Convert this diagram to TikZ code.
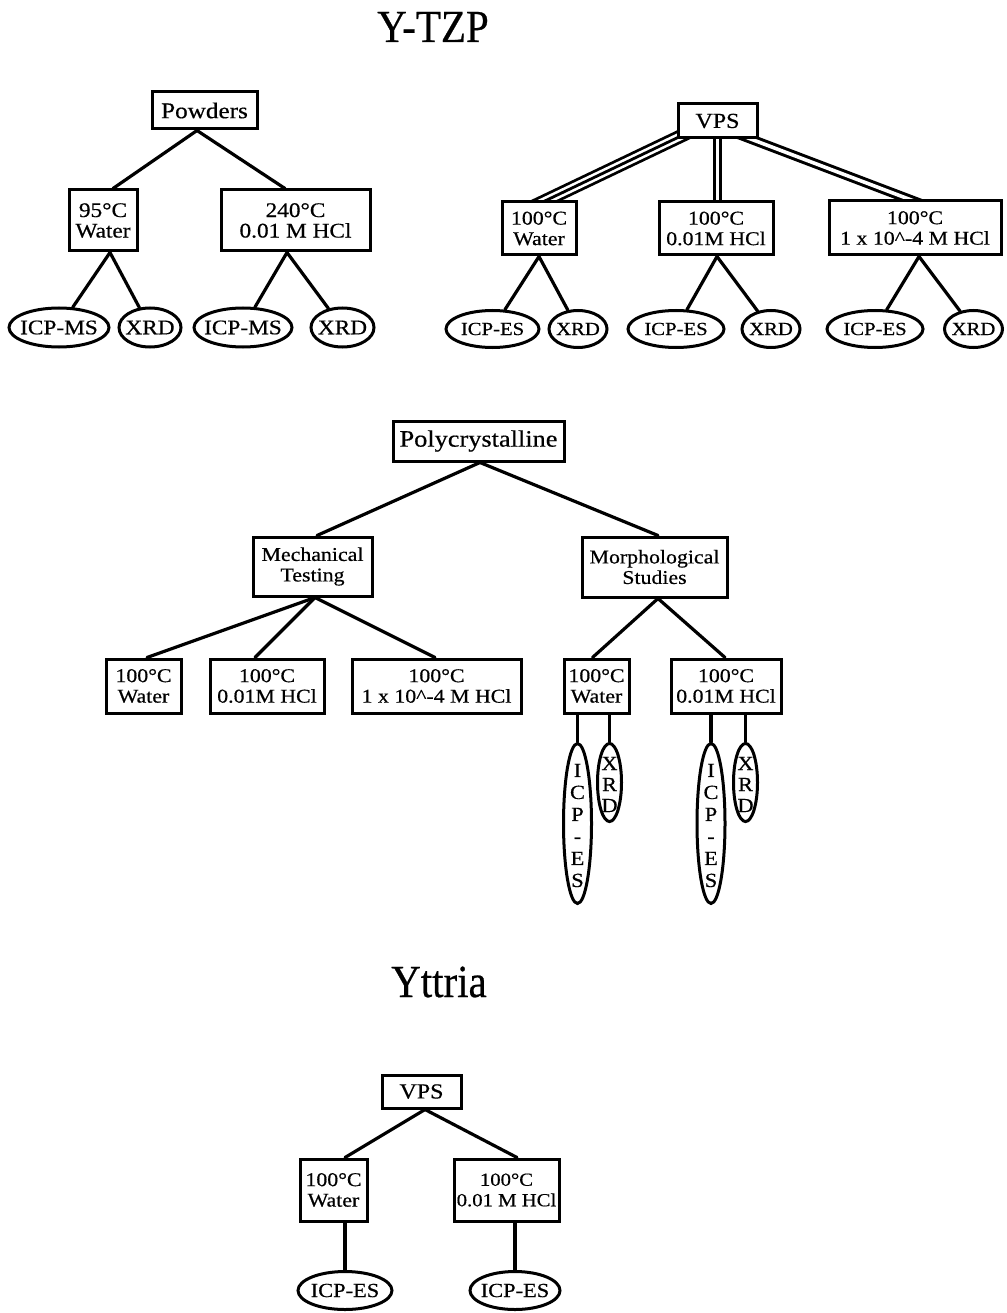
\documentclass[tikz,border=0pt]{standalone}
\usepackage{fontspec}
\setmainfont{Liberation Serif}
\newfontfamily\labfont[FakeStretch=1.12,FakeBold=0.5]{Liberation Serif}
\newfontfamily\titfont[FakeStretch=0.89,FakeBold=0.5]{Liberation Serif}
\usetikzlibrary{shapes.geometric,calc}
\pgfdeclarelayer{bg}
\pgfsetlayers{bg,main}
\begin{document}
\begin{tikzpicture}[x=1pt,y=-1pt,
  box/.style={draw, line width=3pt, fill=white, rectangle, inner sep=0pt, align=center},
  oval/.style={draw, ellipse, line width=3pt, fill=white, inner sep=0pt},
  sz/.style 2 args={minimum width=#1pt, minimum height=#2pt},
  ttl/.style={font=\titfont\fontsize{46}{48}\selectfont, inner sep=0pt, anchor=base},
  big/.style={font=\labfont\fontsize{22.5}{24}\selectfont},
  mid/.style={font=\labfont\fontsize{21.4}{23}\selectfont},
  sml/.style={font=\labfont\fontsize{19.5}{20.5}\selectfont},
  smlA/.style={font=\labfont\fontsize{20.8}{20.5}\selectfont},
  smlB/.style={font=\labfont\fontsize{18.5}{20.5}\selectfont},
  elA/.style={font=\labfont\fontsize{20.8}{22}\selectfont},
  elB/.style={font=\labfont\fontsize{18.5}{20}\selectfont},
  elC/.style={font=\labfont\fontsize{20}{22}\selectfont},
  vtxt/.style={font=\labfont\fontsize{20}{22}\selectfont, align=center, inner sep=0pt},
  conn/.style={line width=3.2pt, line cap=round},
  dbl/.style={line width=3pt, double, double distance=3.6pt},
  tri/.style={line width=2.8pt, double, double distance=8pt},
  trimid/.style={line width=2.8pt}
]
\useasboundingbox (0,0) rectangle (1006,1313);

% ---------- titles
\node[ttl] (ttl1) at (433,42) {Y-TZP};
\node[ttl] (ttl2) at (439,997) {Yttria};

% ---------- tree 1: Powders
\node[box,big,sz={105}{37}] (pow) at (204.5,110.5) {Powders};
\node[box,smlA,sz={68}{61}] (t1a) at (103,220.5) {95°C\\Water};
\node[box,smlA,sz={149}{61}] (t1b) at (295.5,220.5) {240°C\\0.01 M HCl};
\node[oval,elA,sz={100}{39}] (e1) at (59,327.5) {\makebox[0pt]{ICP-MS}};
\node[oval,elA,sz={62}{39}] (e2) at (150,327.5) {\makebox[0pt]{XRD}};
\node[oval,elA,sz={98}{39}] (e3) at (243,327.5) {\makebox[0pt]{ICP-MS}};
\node[oval,elA,sz={63}{39}] (e4) at (342.5,327.5) {\makebox[0pt]{XRD}};

% ---------- tree 2: VPS
\node[box,mid,sz={79}{34}] (vps) at (717.5,121) {VPS};
\node[box,sml,sz={74}{53}] (t2a) at (539,228.5) {100°C\\Water};
\node[box,sml,sz={114}{53}] (t2b) at (716,228.5) {100°C\\0.01M HCl};
\node[box,sml,sz={172}{54}] (t2c) at (915,228) {100°C\\1 x 10\textasciicircum-4 M HCl};
\node[oval,elB,sz={93}{37}] (e5) at (492.5,329) {\makebox[0pt]{ICP-ES}};
\node[oval,elB,sz={58}{37}] (e6) at (578,329) {\makebox[0pt]{XRD}};
\node[oval,elB,sz={96}{37}] (e7) at (676,329) {\makebox[0pt]{ICP-ES}};
\node[oval,elB,sz={58}{37}] (e8) at (771,329) {\makebox[0pt]{XRD}};
\node[oval,elB,sz={96}{37}] (e9) at (875,329) {\makebox[0pt]{ICP-ES}};
\node[oval,elB,sz={58}{37}] (e10) at (973.5,329) {\makebox[0pt]{XRD}};

% ---------- tree 3: Polycrystalline
\node[box,big,font=\labfont\fontsize{23.5}{25}\selectfont,sz={171}{40}] (poly) at (478.5,441) {Polycrystalline};
\node[box,sml,sz={119}{59}] (mech) at (312.5,566.5) {Mechanical\\Testing};
\node[box,sml,sz={145}{60}] (morph) at (654.5,567) {Morphological\\Studies};
\node[box,sml,sz={75}{54}] (m1) at (143.5,686) {100°C\\Water};
\node[box,sml,sz={114}{54}] (m2) at (267,686) {100°C\\0.01M HCl};
\node[box,sml,sz={169}{54}] (m3) at (436.5,686) {100°C\\1 x 10\textasciicircum-4 M HCl};
\node[box,sml,sz={65}{54}] (p1) at (596.5,686) {100°C\\Water};
\node[box,sml,sz={110}{54}] (p2) at (726,686) {100°C\\0.01M HCl};
\node[oval,sz={28}{160}] (v1) at (577.5,823.5) {};
\node[oval,sz={24}{78}] (v2) at (609.5,782.5) {};
\node[oval,sz={28}{160}] (v3) at (711,823.5) {};
\node[oval,sz={24}{78}] (v4) at (745.5,782.5) {};
\node[vtxt] (v1t) at ($(v1.center)+(0,2)$) {I\\C\\P\\-\\E\\S};
\node[vtxt,font=\labfont\fontsize{20}{21}\selectfont] (v2t) at ($(v2.center)+(0,2)$) {X\\R\\D};
\node[vtxt] (v3t) at ($(v3.center)+(0,2)$) {I\\C\\P\\-\\E\\S};
\node[vtxt,font=\labfont\fontsize{20}{21}\selectfont] (v4t) at ($(v4.center)+(0,2)$) {X\\R\\D};

% ---------- tree 4: Yttria VPS
\node[box,mid,sz={79}{33}] (vps2) at (421.5,1091.5) {VPS};
\node[box,sml,sz={67}{62}] (y1) at (333.5,1190) {100°C\\Water};
\node[box,smlB,sz={105}{62}] (y2) at (506.5,1190) {100°C\\0.01 M HCl};
\node[oval,elC,sz={94}{38}] (ye1) at (345,1290.5) {\makebox[0pt]{ICP-ES}};
\node[oval,elC,sz={90}{38}] (ye2) at (515,1290.5) {\makebox[0pt]{ICP-ES}};

% ---------- connectors (behind the boxes)
\begin{pgfonlayer}{bg}
  % tree 1
  \draw[conn] ([xshift=-7.5pt]pow.south) -- ([xshift=10pt]t1a.north);
  \draw[conn] ([xshift=-7.5pt]pow.south) -- ([xshift=-10.5pt]t1b.north);
  \draw[conn] ([xshift=7pt]t1a.south) -- (e1);
  \draw[conn] ([xshift=7pt]t1a.south) -- (e2);
  \draw[conn] ([xshift=-8.5pt]t1b.south) -- (e3);
  \draw[conn] ([xshift=-8.5pt]t1b.south) -- (e4);
  % tree 2
  \draw[tri] ($(vps.south)+(-25,-9)$) -- ($(t2a.north)+(-12,9)$);
  \draw[trimid] ($(vps.south)+(-25,-9)$) -- ($(t2a.north)+(-12,9)$);
  \draw[dbl] ($(vps.south)+(0,-6)$) -- ($(vps.south |- t2b.north)+(0,6)$);
  \draw[dbl] ($(vps.south)+(13.5,-8)$) -- ($(t2c.north)+(16,8)$);
  \draw[conn] (t2a.south) -- (e5);
  \draw[conn] (t2a.south) -- (e6);
  \draw[conn] ([xshift=1pt]t2b.south) -- (e7);
  \draw[conn] ([xshift=1pt]t2b.south) -- (e8);
  \draw[conn] ([xshift=4pt]t2c.south) -- (e9);
  \draw[conn] ([xshift=4pt]t2c.south) -- (e10);
  % tree 3
  \draw[conn] ([xshift=1.5pt]poly.south) -- ([xshift=4.5pt]mech.north);
  \draw[conn] ([xshift=1.5pt]poly.south) -- ([xshift=3.5pt]morph.north);
  \draw[conn] ([xshift=2.5pt]mech.south) -- ([xshift=3.5pt]m1.north);
  \draw[conn] ([xshift=2.5pt]mech.south) -- ([xshift=-12pt]m2.north);
  \draw[conn] ([xshift=2.5pt]mech.south) -- ([xshift=-1.5pt]m3.north);
  \draw[conn] ([xshift=3.5pt]morph.south) -- ([xshift=-4pt]p1.north);
  \draw[conn] ([xshift=3.5pt]morph.south) -- ([xshift=-1pt]p2.north);
  \draw[conn] (v1.north) -- (v1.north |- p1.south);
  \draw[conn] (v2.north) -- (v2.north |- p1.south);
  \draw[conn] (v3.north) -- (v3.north |- p2.south);
  \draw[conn] (v4.north) -- (v4.north |- p2.south);
  % tree 4
  \draw[conn] ([xshift=3.5pt]vps2.south) -- ([xshift=11.5pt]y1.north);
  \draw[conn] ([xshift=3.5pt]vps2.south) -- ([xshift=10.5pt]y2.north);
  \draw[conn] (ye1.north) -- (ye1.north |- y1.south);
  \draw[conn] (ye2.north) -- (ye2.north |- y2.south);
\end{pgfonlayer}
\end{tikzpicture}
\end{document}
